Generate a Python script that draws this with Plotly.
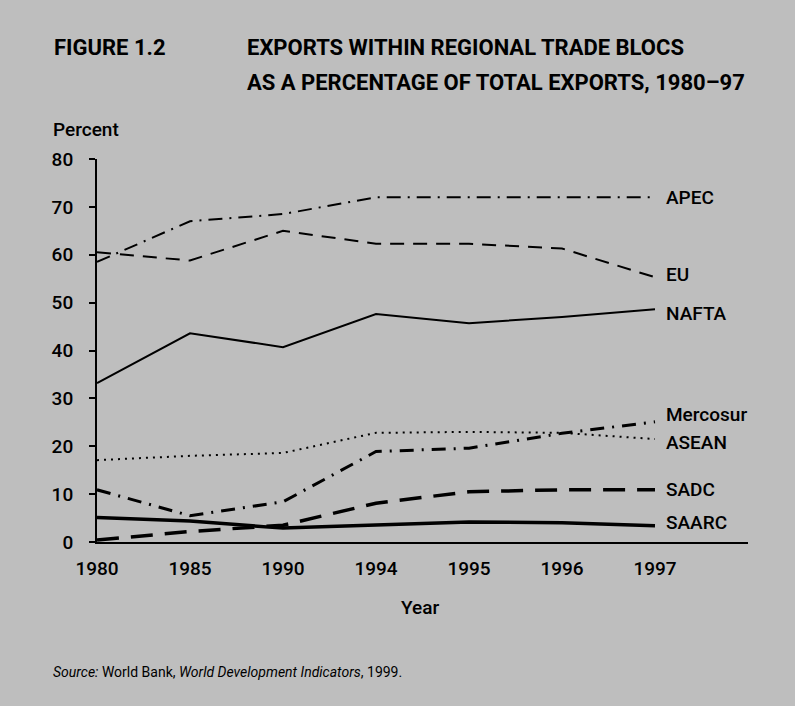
import plotly.graph_objects as go

years = ["1980", "1985", "1990", "1994", "1995", "1996", "1997"]
apec = [58.5, 67.0, 68.5, 72.0, 72.0, 72.0, 72.0]
eu = [60.5, 58.8, 65.0, 62.3, 62.3, 61.3, 55.3]
nafta = [33.2, 43.6, 40.7, 47.6, 45.7, 47.0, 48.6]
mercosur = [10.9, 5.5, 8.4, 18.9, 19.6, 22.7, 25.1]
asean = [17.1, 18.0, 18.6, 22.8, 23.0, 22.8, 21.5]
sadc = [0.4, 2.2, 3.5, 8.1, 10.5, 10.9, 10.9]
saarc = [5.1, 4.4, 2.9, 3.5, 4.2, 4.0, 3.4]
y_ticks = [0, 10, 20, 30, 40, 50, 60, 70, 80]

FONT = "Roboto, Liberation Sans, sans-serif"
BG = "rgb(190,190,190)"
W, H = 795, 706
L, R, T, B = 97, 748, 159, 542  # plot area in pixels

xi = list(range(len(years)))

series = [
    ("APEC", apec, dict(width=2, dash="14px,7px,2px,7px"), 0),
    ("EU", eu, dict(width=2, dash="14px,9px"), 3),
    ("NAFTA", nafta, dict(width=2), -4),
    ("Mercosur", mercosur, dict(width=3, dash="14px,8px,2px,8px"), 7),
    ("ASEAN", asean, dict(width=2, dash="2px,5px"), -3),
    ("SADC", sadc, dict(width=3.5, dash="22px,12px"), 0),
    ("SAARC", saarc, dict(width=3.5), 3),
]

fig = go.Figure()
annotations = []
for name, vals, line, yshift in series:
    fig.add_trace(go.Scatter(x=xi, y=vals, mode="lines", name=name,
                             line=dict(color="black", **line), showlegend=False))
    annotations.append(dict(x=xi[-1], y=vals[-1], xref="x", yref="y", text=name,
                            showarrow=False, xanchor="left", yanchor="middle",
                            xshift=9, yshift=yshift,
                            font=dict(family=FONT, size=19, color="black", weight=500)))


def px_ann(x, y, text, size, xanchor="left", weight=500):
    return dict(x=(x - L) / (R - L), y=(B - y) / (B - T), xref="paper", yref="paper",
                text=text, showarrow=False, xanchor=xanchor, yanchor="middle",
                font=dict(family=FONT, size=size, color="black", weight=weight))


annotations += [
    px_ann(52, 47, "<b>FIGURE 1.2</b>", 22),
    px_ann(245, 47, "<b>EXPORTS WITHIN REGIONAL TRADE BLOCS</b>", 22),
    px_ann(245, 83, "<b>AS A PERCENTAGE OF TOTAL EXPORTS, 1980–97</b>", 22),
    px_ann(51, 129, "Percent", 19),
    px_ann(420, 607, "Year", 19, xanchor="center"),
    px_ann(51, 672, "<i>Source:</i> World Bank, <i>World Development Indicators</i>, 1999.", 14, weight=400),
]

fig.update_layout(
    width=W, height=H,
    margin=dict(l=L, r=W - R, t=T, b=H - B),
    paper_bgcolor=BG, plot_bgcolor=BG,
    font=dict(family=FONT, size=19, color="black"),
    xaxis=dict(range=[0, 7], tickvals=xi, ticktext=years, showgrid=False, zeroline=False,
               showline=True, linecolor="black", linewidth=2, ticks="",
               tickfont=dict(size=19, weight=500), ticklabelstandoff=8),
    yaxis=dict(range=[0, 80], tickvals=y_ticks, showgrid=False, zeroline=False,
               showline=True, linecolor="black", linewidth=2, ticks="outside",
               ticklen=6, tickwidth=2, tickcolor="black",
               tickfont=dict(size=19, weight=500), ticklabelstandoff=12),
    annotations=annotations,
)

fig.write_html("out.html", config={"displayModeBar": False},
               post_script="document.body.style.margin='0';")
